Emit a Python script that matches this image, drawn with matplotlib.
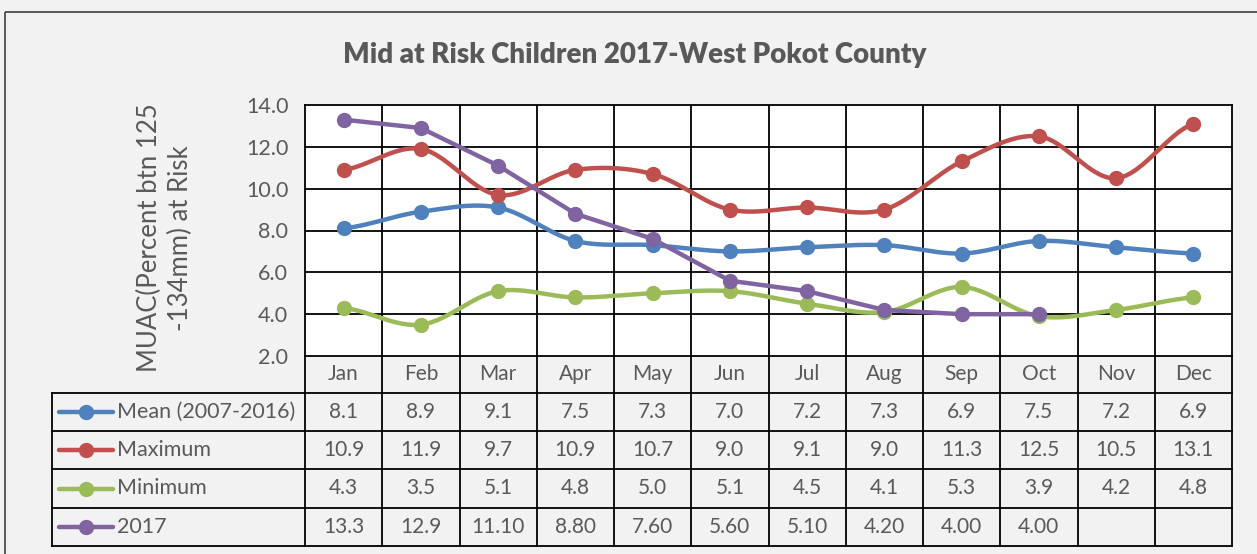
import numpy as np
import matplotlib
matplotlib.use('Agg')
import matplotlib.pyplot as plt
from matplotlib.patches import Rectangle

months = ['Jan', 'Feb', 'Mar', 'Apr', 'May', 'Jun', 'Jul', 'Aug', 'Sep', 'Oct', 'Nov', 'Dec']
mean_vals = [8.1, 8.9, 9.1, 7.5, 7.3, 7.0, 7.2, 7.3, 6.9, 7.5, 7.2, 6.9]
max_vals = [10.9, 11.9, 9.7, 10.9, 10.7, 9.0, 9.1, 9.0, 11.3, 12.5, 10.5, 13.1]
min_vals = [4.3, 3.5, 5.1, 4.8, 5.0, 5.1, 4.5, 4.1, 5.3, 3.9, 4.2, 4.8]
y2017_vals = [13.3, 12.9, 11.1, 8.8, 7.6, 5.6, 5.1, 4.2, 4.0, 4.0]

mean_txt = ['8.1', '8.9', '9.1', '7.5', '7.3', '7.0', '7.2', '7.3', '6.9', '7.5', '7.2', '6.9']
max_txt = ['10.9', '11.9', '9.7', '10.9', '10.7', '9.0', '9.1', '9.0', '11.3', '12.5', '10.5', '13.1']
min_txt = ['4.3', '3.5', '5.1', '4.8', '5.0', '5.1', '4.5', '4.1', '5.3', '3.9', '4.2', '4.8']
y2017_txt = ['13.3', '12.9', '11.10', '8.80', '7.60', '5.60', '5.10', '4.20', '4.00', '4.00', '', '']

names = ['Mean (2007-2016)', 'Maximum', 'Minimum', '2017']
colors = ['#4F81BD', '#C0504D', '#9BBB59', '#8064A2']

plt.rcParams['font.family'] = ['Lato', 'DejaVu Sans']
grey = '#595959'
bg = '#F2F2F2'

W, H = 1257, 554
fig = plt.figure(figsize=(W / 100, H / 100), dpi=100, facecolor=bg)

# pixel layout
L, R, T, B = 305, 1232, 105, 356
ax = fig.add_axes([L / W, 1 - B / H, (R - L) / W, (B - T) / H])
ax.set_facecolor('white')
ax.set_xlim(0, 12)
ax.set_ylim(2, 14)
ax.set_yticks(np.arange(2, 15, 2))
ax.set_yticklabels(['%.1f' % v for v in np.arange(2, 15, 2)], fontsize=15.5, color=grey)
ax.set_xticks([])
ax.tick_params(axis='y', length=0, pad=12)
for y in np.arange(4, 14, 2):
    ax.axhline(y, color='black', lw=1.3, zorder=1)
for x in range(1, 12):
    ax.axvline(x, color='black', lw=1.3, zorder=1)
for s in ax.spines.values():
    s.set_color('black')
    s.set_linewidth(1.3)


def smooth(vals, n=30):
    # catmull-rom style smoothing like Excel's smoothed line
    p = np.array(vals, dtype=float)
    xs, ys = [], []
    for i in range(len(p) - 1):
        p0 = p[i - 1] if i > 0 else p[i]
        p3 = p[i + 2] if i + 2 < len(p) else p[i + 1]
        t = np.linspace(0, 1, n)
        c1 = p[i] + (p[i + 1] - p0) / 6
        c2 = p[i + 1] - (p3 - p[i]) / 6
        yy = (1 - t) ** 3 * p[i] + 3 * (1 - t) ** 2 * t * c1 + 3 * (1 - t) * t ** 2 * c2 + t ** 3 * p[i + 1]
        xs.extend(i + 0.5 + t)
        ys.extend(yy)
    return np.array(xs), np.array(ys)


series = [mean_vals, max_vals, min_vals, y2017_vals]
for k, vals in enumerate(series):
    xpts = np.arange(len(vals)) + 0.5
    if k < 3:
        sx, sy = smooth(vals)
        ax.plot(sx, sy, color=colors[k], lw=3.2, zorder=3, solid_capstyle='round')
    else:
        ax.plot(xpts, vals, color=colors[k], lw=3.2, zorder=3, solid_capstyle='round')
    ax.plot(xpts, vals, 'o', color=colors[k], ms=10, zorder=4)

# overlay in pixel coords for table, title and frame
ov = fig.add_axes([0, 0, 1, 1], facecolor='none')
ov.set_xlim(0, W)
ov.set_ylim(H, 0)
ov.axis('off')

ov.add_patch(Rectangle((5, 12), W + 10, H, fill=False, ec='#404040', lw=1.2))
ov.text(635, 55, 'Mid at Risk Children 2017-West Pokot County', fontsize=20,
        fontweight='heavy', color=grey, ha='center', va='center')
ov.text(165, 238, 'MUAC(Percent btn 125\n-134mm) at Risk', fontsize=18.5, color=grey,
        rotation=90, ha='center', va='center', multialignment='center', linespacing=1.3)

col_w = (R - L) / 12
rows = [356, 393, 431, 469, 508, 546]
TL = 52
lk = dict(color='black', lw=1.3)
# header row
for i, m in enumerate(months):
    ov.text(L + (i + 0.5) * col_w, (rows[0] + rows[1]) / 2, m, fontsize=15, color=grey,
            ha='center', va='center')
for i in range(13):
    ov.plot([L + i * col_w] * 2, [rows[0], rows[-1]], **lk)
for y in rows[1:]:
    ov.plot([TL, R], [y, y], **lk)
ov.plot([TL, TL], [rows[1], rows[-1]], **lk)

texts = [mean_txt, max_txt, min_txt, y2017_txt]
for r in range(4):
    yc = (rows[r + 1] + rows[r + 2]) / 2
    ov.plot([59, 113], [yc, yc], color=colors[r], lw=3.2, solid_capstyle='round')
    ov.plot([86], [yc], 'o', color=colors[r], ms=10)
    ov.text(117, yc, names[r], fontsize=15.5, color=grey, ha='left', va='center')
    for i, t in enumerate(texts[r]):
        ov.text(L + (i + 0.5) * col_w, yc, t, fontsize=15, color=grey, ha='center', va='center')

fig.savefig('out.png', dpi=100, facecolor=bg)
